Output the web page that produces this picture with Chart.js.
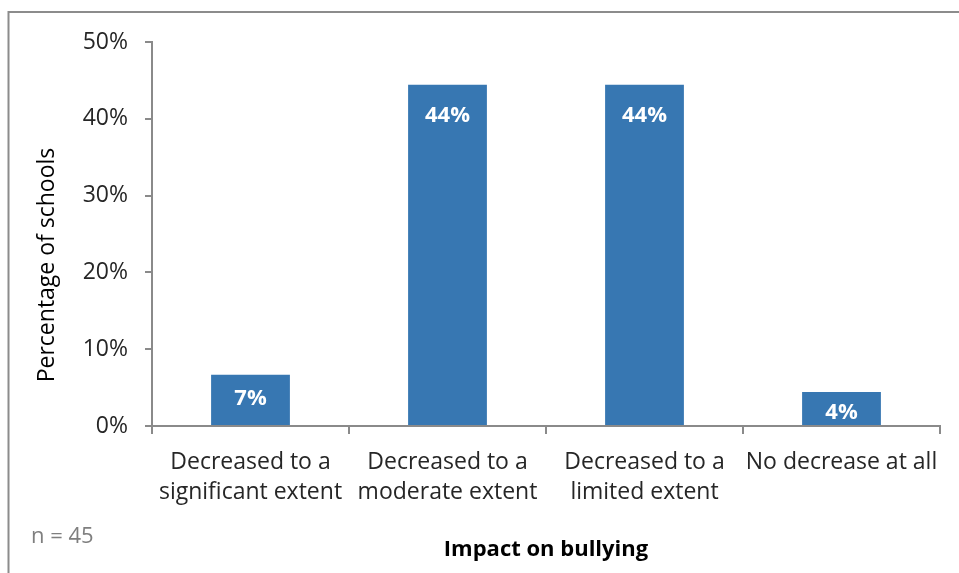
<!DOCTYPE html>
<html>
<head>
<meta charset="utf-8">
<script src="https://cdn.jsdelivr.net/npm/chart.js@4.4.1/dist/chart.umd.min.js"></script>
<style>
html,body{margin:0;padding:0;background:#fff;}
#wrap{position:relative;width:959px;height:573px;}
</style>
</head>
<body>
<div id="wrap"><canvas id="c" width="959" height="573"></canvas></div>
<script>
const categories = [
  ["Decreased to a", "significant extent"],
  ["Decreased to a", "moderate extent"],
  ["Decreased to a", "limited extent"],
  ["No decrease at all"]
];
const percentages = [6.67, 44.44, 44.44, 4.44];
const valueLabels = ["7%", "44%", "44%", "4%"];
const yTicks = [0, 10, 20, 30, 40, 50];
const yTitle = "Percentage of schools";
const xTitle = "Impact on bullying";
const note = "n = 45";

const FONT = "'Open Sans', sans-serif";
const AXIS = "#8a8a8a";
const TEXT = "#262626";

const extras = {
  id: 'extras',
  beforeDraw(chart) {
    const ctx = chart.ctx;
    ctx.save();
    ctx.fillStyle = '#fff';
    ctx.fillRect(0, 0, chart.width, chart.height);
    ctx.strokeStyle = '#8c8c8c';
    ctx.lineWidth = 2;
    ctx.beginPath();
    ctx.moveTo(8.5, chart.height + 5);
    ctx.lineTo(8.5, 12);
    ctx.lineTo(chart.width + 5, 12);
    ctx.stroke();
    ctx.restore();
  },
  afterDraw(chart) {
    const ctx = chart.ctx;
    const area = chart.chartArea;
    ctx.save();
    // value labels (inside end)
    const meta = chart.getDatasetMeta(0);
    ctx.fillStyle = '#fff';
    ctx.font = "bold 22px " + FONT;
    ctx.textAlign = 'center';
    ctx.textBaseline = 'middle';
    meta.data.forEach((bar, i) => {
      const h = bar.base - bar.y;
      const off = Math.min(31, 14.5 + 0.18 * h);
      ctx.fillText(valueLabels[i], bar.x, bar.y + off);
    });
    // y title
    ctx.fillStyle = '#000';
    ctx.font = "23px " + FONT;
    ctx.translate(47, 265);
    ctx.rotate(-Math.PI / 2);
    ctx.fillText(yTitle, 0, 0);
    ctx.setTransform(1, 0, 0, 1, 0, 0);
    // x title
    ctx.font = "bold 22px " + FONT;
    ctx.fillText(xTitle, (area.left + area.right) / 2, 550);
    // note
    ctx.fillStyle = '#7f7f7f';
    ctx.textAlign = 'left';
    ctx.font = "22px " + FONT;
    ctx.fillText(note, 31, 537);
    ctx.restore();
  }
};

new Chart(document.getElementById('c'), {
  type: 'bar',
  data: {
    labels: categories,
    datasets: [{
      data: percentages,
      backgroundColor: '#3777B2',
      borderWidth: 0,
      barPercentage: 0.4,
      categoryPercentage: 1.0
    }]
  },
  options: {
    responsive: false,
    animation: false,
    devicePixelRatio: 1,
    layout: { padding: { left: 0, right: 19, top: 42, bottom: 0 } },
    plugins: { legend: { display: false }, tooltip: { enabled: false } },
    scales: {
      x: {
        grid: { drawOnChartArea: false, offset: true, tickLength: 8, color: AXIS, lineWidth: 2 },
        border: { color: AXIS, width: 2 },
        ticks: { color: TEXT, font: { family: FONT, size: 23, lineHeight: 1.3 }, padding: 14, maxRotation: 0, autoSkip: false },
        afterFit(scale) { scale.height = 147; }
      },
      y: {
        min: 0, max: 50,
        afterBuildTicks(scale) { scale.ticks = yTicks.map(v => ({ value: v })); },
        grid: { drawOnChartArea: false, tickLength: 7, color: AXIS, lineWidth: 2 },
        border: { color: AXIS, width: 2 },
        ticks: { color: TEXT, font: { family: FONT, size: 23 }, padding: 17, callback: v => v + '%' },
        afterFit(scale) { scale.width = 152; }
      }
    }
  },
  plugins: [extras]
});
</script>
</body>
</html>
